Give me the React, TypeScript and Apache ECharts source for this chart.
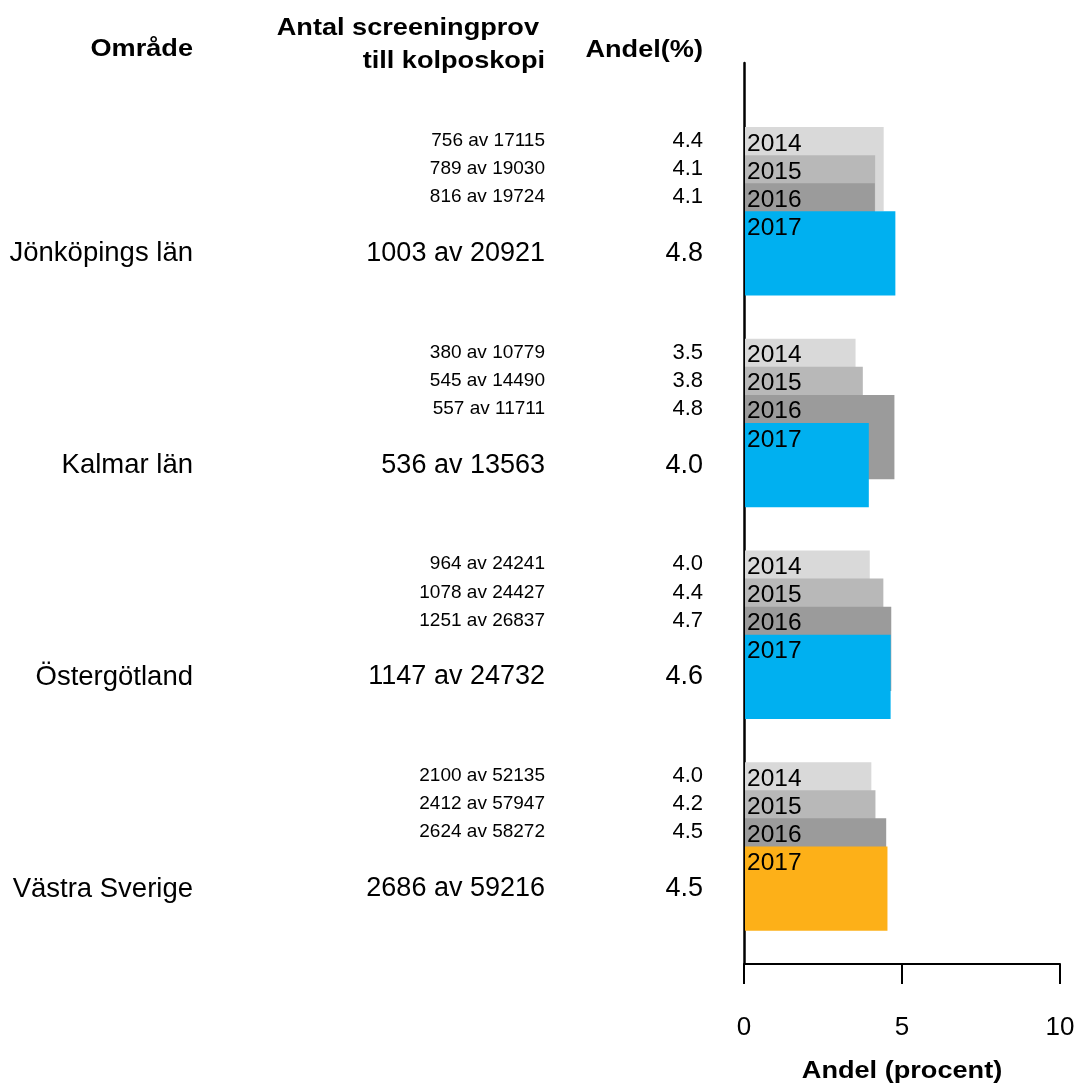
import React, { useEffect, useRef } from "react";
import * as echarts from "echarts";

const areas = ["Jönköpings län", "Kalmar län", "Östergötland", "Västra Sverige"];
const years = ["2014", "2015", "2016", "2017"];
// Share (percent) per area and year, bar lengths
const shares = [
  [4.42, 4.15, 4.14, 4.79],
  [3.53, 3.76, 4.76, 3.95],
  [3.98, 4.41, 4.66, 4.64],
  [4.03, 4.16, 4.5, 4.54],
];
const countLabels = [
  ["756 av 17115", "789 av 19030", "816 av 19724", "1003 av 20921"],
  ["380 av 10779", "545 av 14490", "557 av 11711", "536 av 13563"],
  ["964 av 24241", "1078 av 24427", "1251 av 26837", "1147 av 24732"],
  ["2100 av 52135", "2412 av 57947", "2624 av 58272", "2686 av 59216"],
];
const shareLabels = [
  ["4.4", "4.1", "4.1", "4.8"],
  ["3.5", "3.8", "4.8", "4.0"],
  ["4.0", "4.4", "4.7", "4.6"],
  ["4.0", "4.2", "4.5", "4.5"],
];
const xMin = 0;
const xMax = 10;
const xInterval = 5;
const xAxisTitle = "Andel (procent)";
const headers = { area: "Område", count1: "Antal screeningprov", count2: "till kolposkopi", share: "Andel(%)" };
const highlightArea = "Västra Sverige";

const yearColors = ["#d9d9d9", "#b8b8b8", "#9b9b9b", "#00b0f0"];
const highlightColor = "#fdb018";

// layout in row units on the hidden vertical value axis
const AXIS_ROWS = 32.07;
const FIRST = 2.28;
const STEP = 7.535;
const BAR_ROWS = 3;

const FONT = "'Liberation Sans', Arial, Helvetica, sans-serif";
const BOLD = `bold 23px ${FONT}`;
const BOLD_SCALE = 1.18;

export default function App() {
  const ref = useRef<HTMLDivElement>(null);
  useEffect(() => {
    const chart = echarts.init(ref.current!, null, { renderer: "svg" });

    const barData: any[] = [];
    const textData: any[] = [];
    areas.forEach((a, g) => {
      years.forEach((y, yi) => {
        barData.push([g, yi, shares[g][yi]]);
        textData.push([g, yi, 0]);
      });
    });

    const boldText = (text: string, x: number, y: number, align: string) => ({
      type: "text",
      x,
      y,
      scaleX: BOLD_SCALE,
      style: { text, x: 0, y: 0, font: BOLD, fill: "#000", align, verticalAlign: "middle" },
    });

    const option: any = {
      animation: false,
      grid: { left: 744, right: 18, top: 63, bottom: 126, containLabel: false },
      xAxis: {
        type: "value",
        min: xMin,
        max: xMax,
        interval: xInterval,
        axisLine: { show: true, onZero: false, lineStyle: { color: "#000", width: 2 } },
        axisTick: { show: true, length: 20, lineStyle: { color: "#000", width: 2 } },
        axisLabel: { color: "#000", fontSize: 26, fontFamily: FONT, margin: 49 },
        splitLine: { show: false },
      },
      yAxis: {
        type: "value",
        inverse: true,
        min: 0,
        max: AXIS_ROWS,
        axisLine: { show: true, lineStyle: { color: "#000", width: 2.5 } },
        axisTick: { show: false },
        axisLabel: { show: false },
        splitLine: { show: false },
      },
      graphic: [
        boldText(headers.area, 193, 48, "right"),
        boldText(headers.count1, 539, 27, "right"),
        boldText(headers.count2, 545, 60, "right"),
        boldText(headers.share, 703, 49, "right"),
        boldText(xAxisTitle, 902, 1070, "center"),
      ],
      series: [
        {
          type: "custom",
          clip: false,
          data: barData,
          encode: { x: 2, y: 1 },
          renderItem: (params: any, api: any) => {
            const g = api.value(0);
            const yi = api.value(1);
            const v = api.value(2);
            const top = FIRST + g * STEP + yi;
            const p0 = api.coord([0, top]);
            const p1 = api.coord([v, top + BAR_ROWS]);
            const rowPx = api.coord([0, top + 1])[1] - p0[1];
            const color = yi === 3 && areas[g] === highlightArea ? highlightColor : yearColors[yi];
            return {
              type: "group",
              children: [
                {
                  type: "rect",
                  shape: { x: p0[0] + 1, y: p0[1], width: p1[0] - p0[0] - 1, height: p1[1] - p0[1] },
                  style: { fill: color },
                },
                {
                  type: "text",
                  style: {
                    text: years[yi],
                    x: p0[0] + 3,
                    y: p0[1] + rowPx / 2 + 1,
                    verticalAlign: "middle",
                    align: "left",
                    font: `24.5px ${FONT}`,
                    fill: "#000",
                  },
                },
              ],
            };
          },
        },
        {
          type: "custom",
          clip: false,
          data: textData,
          encode: { x: 2, y: 1 },
          renderItem: (params: any, api: any) => {
            const g = api.value(0);
            const yi = api.value(1);
            const big = yi === 3;
            const top = FIRST + g * STEP + yi;
            const cy = api.coord([0, big ? top + BAR_ROWS / 2 : top + 0.5])[1] - 1.5;
            const children: any[] = [
              {
                type: "text",
                style: {
                  text: countLabels[g][yi],
                  x: 545,
                  y: cy,
                  align: "right",
                  verticalAlign: "middle",
                  font: `${big ? 27 : 19}px ${FONT}`,
                  fill: "#000",
                },
              },
              {
                type: "text",
                style: {
                  text: shareLabels[g][yi],
                  x: 703,
                  y: cy,
                  align: "right",
                  verticalAlign: "middle",
                  font: `${big ? 27 : 22}px ${FONT}`,
                  fill: "#000",
                },
              },
            ];
            if (big) {
              children.push({
                type: "text",
                style: {
                  text: areas[g],
                  x: 193,
                  y: cy,
                  align: "right",
                  verticalAlign: "middle",
                  font: `27.5px ${FONT}`,
                  fill: "#000",
                },
              });
            }
            return { type: "group", children };
          },
        },
      ],
    };
    chart.setOption(option);
    return () => chart.dispose();
  }, []);
  return (
    <div
      ref={ref}
      style={{ position: "fixed", left: 0, top: 0, width: 1078, height: 1090 }}
    />
  );
}
